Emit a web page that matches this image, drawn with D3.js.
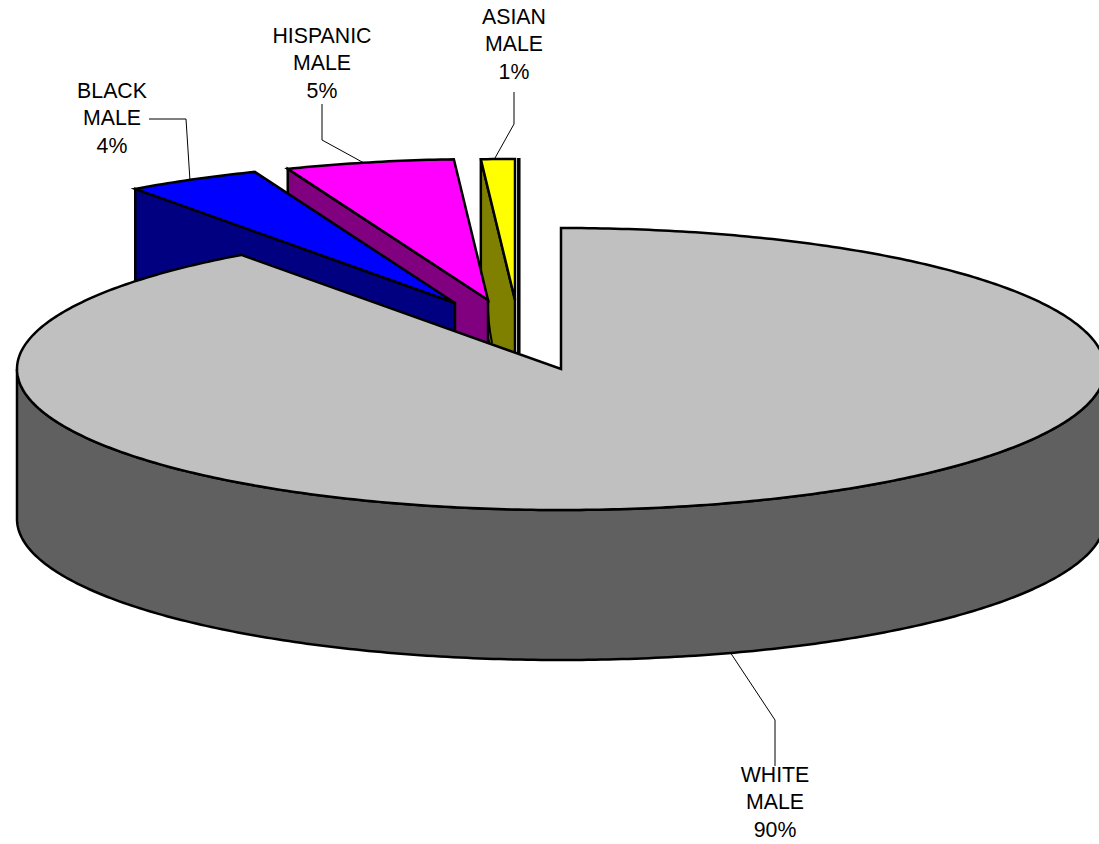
<!DOCTYPE html>
<html>
<head>
<meta charset="utf-8">
<style>
  html, body { margin: 0; padding: 0; background: #fff; overflow: hidden; }
  svg { display: block; }
  text { font-family: "Liberation Sans", Arial, sans-serif; font-size: 21.3px; fill: #000; text-anchor: middle; }
</style>
</head>
<body>
<svg id="chart" width="1099" height="844"></svg>
<script src="https://cdn.jsdelivr.net/npm/d3@7/dist/d3.min.js"></script>
<script>
// Category shares, clockwise from twelve o'clock.
const categories = ["WHITE MALE", "BLACK MALE", "HISPANIC MALE", "ASIAN MALE"];
const shares = [90, 4, 5, 1];
const topColors = ["#C0C0C0", "#0000FF", "#FF00FF", "#FFFF00"];
const wallColors = ["#606060", "#000080", "#800080", "#808000"];

// Where each wedge's tip sits once pulled out of the pie.
const tips = [[561, 369], [455, 303], [488, 300], [515, 300]];
// Label centre and leader polyline for each wedge.
const labelCentres = [[775, 775], [112, 91], [322, 36], [514, 17]];
const leaders = [
  [[775, 766], [775, 720], [730, 652]],
  [[149, 119], [186, 119], [190, 181]],
  [[322, 104], [322, 140], [364, 163]],
  [[514, 92], [514, 124], [495, 158]]
];

const rx = 544, ry = 141, depth = 150, lineHeight = 27.4;

const svg = d3.select("#chart");
const pieAngles = d3.pie().sort(null).value(d => d)(shares);

// Unit-circle coordinates flattened onto the tilted pie plane.
const xScale = d3.scaleLinear().domain([0, 1]).range([0, rx]);
const yScale = d3.scaleLinear().domain([0, 1]).range([0, ry]);
const rim = (tip, a, drop = 0) => [
  tip[0] + xScale(Math.sin(a)),
  tip[1] - yScale(Math.cos(a)) + drop
];
const line = d3.line();
const arcPoints = (tip, a0, a1, drop = 0) => {
  const n = Math.max(2, Math.ceil(Math.abs(a1 - a0) * 80));
  return d3.range(n + 1).map(i => rim(tip, a0 + (a1 - a0) * i / n, drop));
};
const stroked = (points, fill, close = true) =>
  svg.append("path")
    .attr("d", line(points) + (close ? "Z" : ""))
    .attr("fill", fill)
    .attr("stroke", "#000")
    .attr("stroke-width", 2.5)
    .attr("stroke-linejoin", "miter");

// Back to front: the small wedges first, the big one over them.
[3, 2, 1].forEach(i => {
  const tip = tips[i], s = pieAngles[i];
  const edge = rim(tip, s.startAngle);
  stroked([edge, tip, [tip[0], tip[1] + depth], [edge[0], edge[1] + depth]], wallColors[i]);
  if (i === 3) {
    // The closing edge of the thin wedge is seen almost end on.
    svg.append("line")
      .attr("x1", tip[0] + 3.8).attr("x2", tip[0] + 3.8)
      .attr("y1", rim(tip, s.endAngle)[1] - 1).attr("y2", tip[1] + 53)
      .attr("stroke", "#000").attr("stroke-width", 3.5);
  }
  stroked([tip, ...arcPoints(tip, s.startAngle, s.endAngle)], topColors[i]);
  if (i === 2) {
    // Rounded inner corner where the thin wedge's wall meets this one.
    svg.append("path")
      .attr("d", `M${tip[0]},${tip[1]}Q${tip[0] - 0.5},${tip[1] + 20} ${tip[0] + 4},${tip[1] + 43}`)
      .attr("fill", "none")
      .attr("stroke", "#000")
      .attr("stroke-width", 2);
  }
});

// Large wedge: outer wall from the left extreme round the front to the right extreme.
{
  const tip = tips[0], s = pieAngles[0];
  const front = arcPoints(tip, Math.PI / 2, 3 * Math.PI / 2);
  const frontLow = arcPoints(tip, 3 * Math.PI / 2, Math.PI / 2, depth);
  stroked([...front, ...frontLow], wallColors[0]);
  stroked([tip, ...arcPoints(tip, s.startAngle, s.endAngle)], topColors[0]);
}

// Leader lines.
leaders.forEach(pts => {
  svg.append("path")
    .attr("d", line(pts))
    .attr("fill", "none")
    .attr("stroke", "#000")
    .attr("stroke-width", 1);
});

// Three-line labels: two words, then the share.
const pctFormat = d => d3.format(".0f")(d) + "%";
categories.forEach((name, i) => {
  const rows = [...name.split(" "), pctFormat(shares[i])];
  const t = svg.append("text")
    .attr("x", labelCentres[i][0])
    .attr("y", labelCentres[i][1] + 7);
  rows.forEach((row, j) => {
    t.append("tspan")
      .attr("x", labelCentres[i][0])
      .attr("dy", j === 0 ? 0 : lineHeight)
      .text(row);
  });
});
</script>
</body>
</html>
